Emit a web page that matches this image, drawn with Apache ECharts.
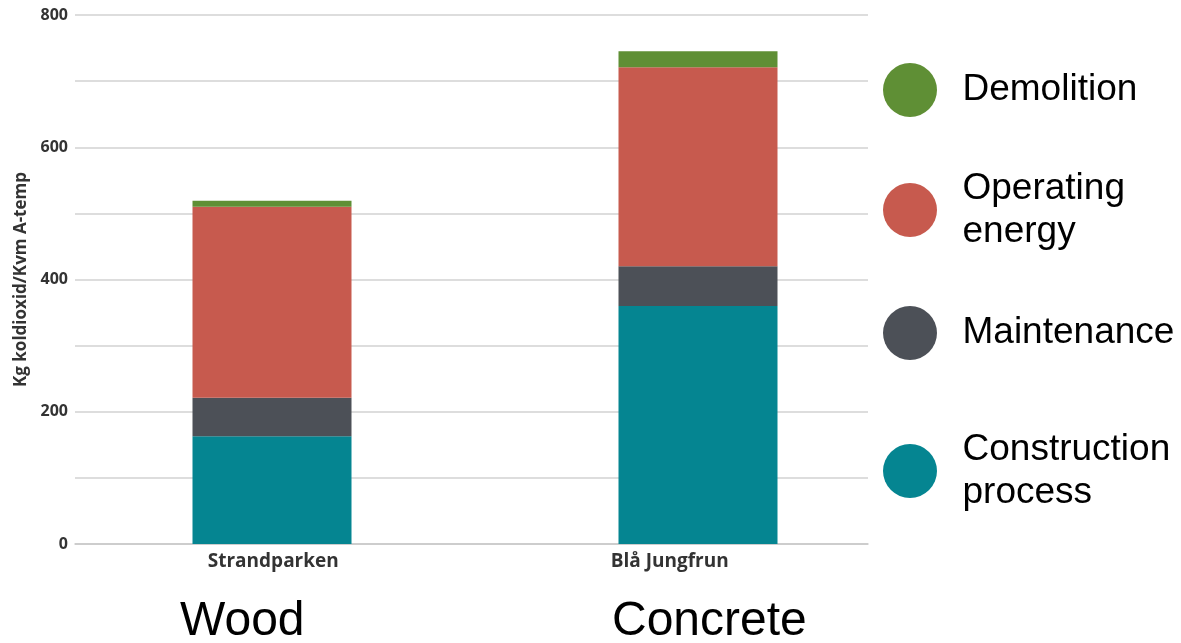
<!DOCTYPE html>
<html>
<head>
<meta charset="utf-8">
<script src="https://cdn.jsdelivr.net/npm/echarts@6/dist/echarts.min.js"></script>
<style>html,body{margin:0;padding:0;background:#fff;}#c{width:1181px;height:643px;}</style>
</head>
<body>
<div id="c"></div>
<script>
const categories = ['Strandparken', 'Blå Jungfrun'];
const materials = ['Wood', 'Concrete'];
const construction = [163, 360];
const maintenance = [58, 60];
const operating = [289, 301];
const demolition = [9, 24];
const yTicks = [0, 200, 400, 600, 800];
const seriesNames = ['Demolition', 'Operating energy', 'Maintenance', 'Construction process'];
const legendLabels = ['Demolition', 'Operating\nenergy', 'Maintenance', 'Construction\nprocess'];

const colors = {
  'Construction process': '#058591',
  'Maintenance': '#4c5057',
  'Operating energy': '#c75a4e',
  'Demolition': '#5f8f35'
};

const chart = echarts.init(document.getElementById('c'));
const legendTops = [63, 167, 306, 428];
const legends = seriesNames.map((n, i) => ({
  data: [n],
  orient: 'vertical',
  left: 883,
  top: legendTops[i],
  padding: 0,
  icon: 'circle',
  itemWidth: 95,
  itemHeight: 54,
  selectedMode: false,
  formatter: () => legendLabels[i],
  textStyle: { fontFamily: 'Liberation Sans', fontSize: 37, color: '#000', lineHeight: 43 }
}));

function barSeries(name, data) {
  return {
    name, type: 'bar', stack: 'total', data,
    xAxisIndex: 1, yAxisIndex: 1,
    barWidth: 159,
    itemStyle: { color: colors[name] },
    emphasis: { disabled: true }
  };
}

chart.setOption({
  animation: false,
  backgroundColor: '#fff',
  legend: legends,
  grid: [
    { left: 75, right: 313, top: 15, bottom: 99 },
    { left: 59, right: 270, top: 15, bottom: 99 }
  ],
  xAxis: [
    {
      type: 'category', gridIndex: 0, data: categories,
      axisTick: { show: false },
      axisLine: { lineStyle: { color: '#c8c8c8', width: 1.5 } },
      axisLabel: { fontFamily: 'Open Sans', fontWeight: 'bold', fontSize: 19, color: '#333', margin: 8 }
    },
    { type: 'category', gridIndex: 1, data: categories, show: false }
  ],
  yAxis: [
    {
      type: 'value', gridIndex: 0, min: 0, max: 800, interval: 100,
      name: 'Kg koldioxid/Kvm A-temp', nameLocation: 'middle', nameGap: 44,
      nameTextStyle: { fontFamily: 'Open Sans', fontWeight: 'bold', fontSize: 17, color: '#333' },
      axisLine: { show: false }, axisTick: { show: false },
      axisLabel: {
        fontFamily: 'Open Sans', fontWeight: 'bold', fontSize: 16, color: '#333', margin: 7,
        formatter: v => yTicks.includes(v) ? String(v) : ''
      },
      splitLine: { lineStyle: { color: '#d2d2d2', width: 1.5 } }
    },
    { type: 'value', gridIndex: 1, min: 0, max: 800, show: false }
  ],
  series: [
    barSeries('Construction process', construction),
    barSeries('Maintenance', maintenance),
    barSeries('Operating energy', operating),
    barSeries('Demolition', demolition)
  ],
  graphic: [
    { type: 'text', left: 180, top: 598, style: { text: materials[0], font: '48px "Liberation Sans"', fill: '#000' } },
    { type: 'text', left: 612, top: 598, style: { text: materials[1], font: '48px "Liberation Sans"', fill: '#000' } }
  ]
});
</script>
</body>
</html>
